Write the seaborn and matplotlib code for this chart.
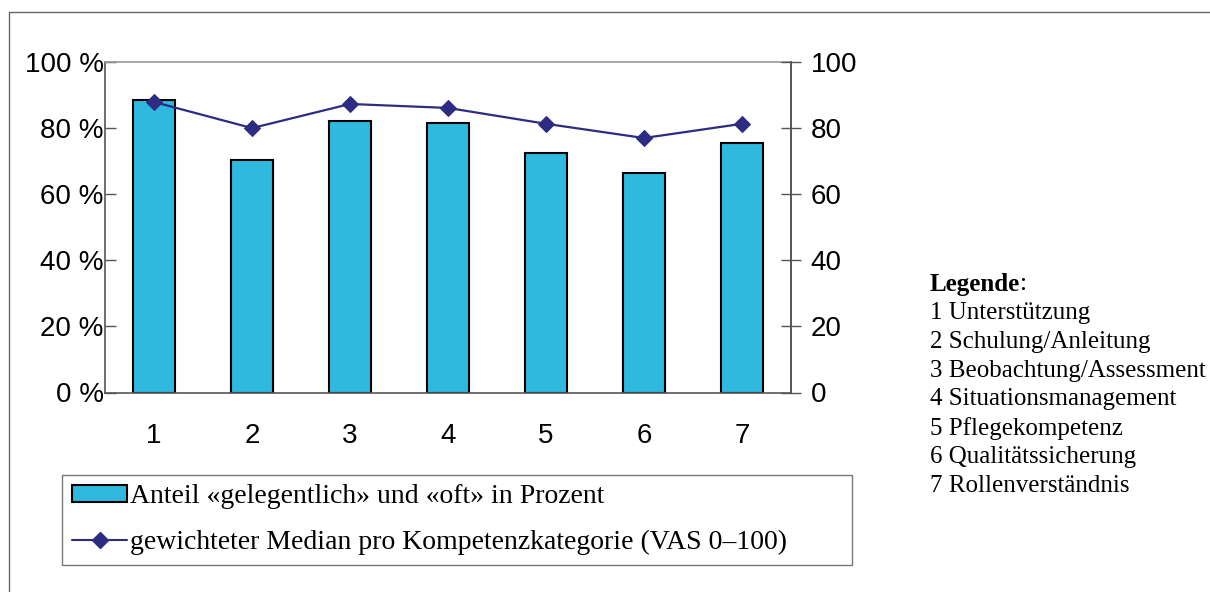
import numpy as np
import pandas as pd
import matplotlib
matplotlib.use("Agg")
import matplotlib.pyplot as plt
import seaborn as sns
from matplotlib.patches import Patch
from matplotlib.lines import Line2D

# Daten
kategorien = ["1", "2", "3", "4", "5", "6", "7"]
anteil_prozent = [88.5, 70.3, 82.2, 81.6, 72.6, 66.5, 75.6]
median_vas = [87.9, 80.0, 87.3, 86.1, 81.3, 77.0, 81.3]
legende_namen = ["Unterstützung", "Schulung/Anleitung", "Beobachtung/Assessment",
                 "Situationsmanagement", "Pflegekompetenz", "Qualitätssicherung",
                 "Rollenverständnis"]
y_ticks = [0, 20, 40, 60, 80, 100]

BAR_COLOR = "#2FB9DF"
LINE_COLOR = "#2E2B82"
AXIS_GRAY = "#555555"

sns.set_theme(style="white")
plt.rcParams["font.family"] = ["Liberation Sans", "DejaVu Sans"]
plt.rcParams["text.color"] = "black"
plt.rcParams["xtick.labelcolor"] = "black"
plt.rcParams["ytick.labelcolor"] = "black"

W, H = 1210, 592
fig = plt.figure(figsize=(W / 100, H / 100), dpi=100)

# aeusserer Rahmen
fig.add_artist(Line2D([9 / W, 9 / W], [0, 1 - 12 / H], transform=fig.transFigure,
                      color="#666666", lw=1))
fig.add_artist(Line2D([9 / W, 1], [1 - 12 / H, 1 - 12 / H], transform=fig.transFigure,
                      color="#666666", lw=1))

left, right, top, bottom = 105, 791, 62, 392.5
ax = fig.add_axes([left / W, 1 - bottom / H, (right - left) / W, (bottom - top) / H])

df = pd.DataFrame({"kat": kategorien, "anteil": anteil_prozent, "median": median_vas})

sns.barplot(data=df, x="kat", y="anteil", color=BAR_COLOR, saturation=1,
            width=0.42, edgecolor="black", linewidth=1.5, ax=ax)
ax.set_xlim(-0.5, 6.5)
ax.set_ylim(0, 100)
ax.set_xlabel("")
ax.set_ylabel("")
ax.set_yticks(y_ticks)
ax.set_yticklabels([f"{t} %" for t in y_ticks], fontsize=20)
ax.set_xticks(range(7))
ax.set_xticklabels(kategorien, fontsize=20)
ax.tick_params(axis="x", length=0, pad=22)
ax.tick_params(axis="y", direction="in", length=8, width=1, color=AXIS_GRAY, pad=1)
# Striche zwischen den Kategorien
ax.set_xticks(np.arange(-0.5, 7, 1), minor=True)
ax.tick_params(axis="x", which="minor", direction="inout", length=14, width=1,
               color=AXIS_GRAY)
for s in ax.spines.values():
    s.set_color(AXIS_GRAY)
    s.set_linewidth(1.2)
ax.spines["top"].set_color("#999999")

ax2 = ax.twinx()
x_pos = np.arange(len(kategorien))
sns.lineplot(x=x_pos, y=median_vas, color=LINE_COLOR, marker="D", markersize=8,
             markeredgecolor=LINE_COLOR, linewidth=1.6, ax=ax2)
ax2.set_xlim(-0.5, 6.5)
ax2.set_ylim(0, 100)
ax2.set_yticks(y_ticks)
ax2.set_yticklabels([str(t) for t in y_ticks], fontsize=20)
ax2.tick_params(axis="y", direction="inout", length=14, width=1, color=AXIS_GRAY, pad=7)
for s in ax2.spines.values():
    s.set_visible(False)
ax2.spines["right"].set_visible(True)
ax2.spines["right"].set_color(AXIS_GRAY)
ax2.spines["right"].set_linewidth(1.2)

# Legende unten
handles = [
    Patch(facecolor=BAR_COLOR, edgecolor="black", linewidth=1.5),
    Line2D([0], [0], color=LINE_COLOR, marker="D", markersize=8, linewidth=1.5),
]
labels = ["Anteil «gelegentlich» und «oft» in Prozent",
          "gewichteter Median pro Kompetenzkategorie (VAS 0–100)"]
leg = fig.legend(handles, labels, loc="lower left",
                 bbox_to_anchor=(62 / W, 1 - 565 / H, 790 / W, 89 / H),
                 mode="expand", borderaxespad=0, frameon=True, fancybox=False,
                 handlelength=2.0, handleheight=0.6, handletextpad=0.1,
                 labelspacing=0.75, borderpad=0.35,
                 prop={"family": "Liberation Serif", "size": 20})
leg.get_frame().set_edgecolor("#555555")
leg.get_frame().set_linewidth(1)

# Kategorien-Legende rechts
t = fig.text(930 / W, 1 - 284 / H, "Legende", fontsize=18, fontweight="bold",
             family="Liberation Serif", va="center", ha="left")
fig.canvas.draw()
bb = t.get_window_extent()
fig.text(bb.x1 / W, 1 - 284 / H, ":", fontsize=18, family="Liberation Serif",
         va="center", ha="left")
for i, name in enumerate(legende_namen):
    fig.text(930 / W, 1 - (313 + i * 28.8) / H, f"{i + 1} {name}", fontsize=18,
             family="Liberation Serif", va="center", ha="left")

fig.savefig("out.png", dpi=100)
